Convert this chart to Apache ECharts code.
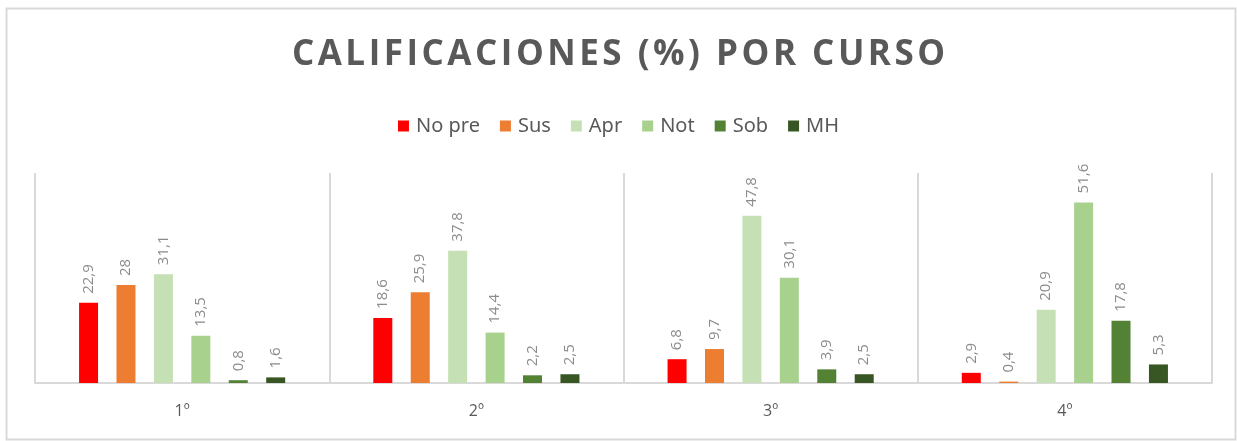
<!DOCTYPE html>
<html>
<head>
<meta charset="utf-8">
<script src="https://cdn.jsdelivr.net/npm/echarts@6/dist/echarts.min.js"></script>
<style>
    html, body { margin: 0; padding: 0; background: #fff; }
    #chart { width: 1237px; height: 441px; }
</style>
</head>
<body>
<div id="chart"></div>
<script>
// cursos y notas
var tituloTexto = "CALIFICACIONES (%) POR CURSO";
var cursos = ["1º", "2º", "3º", "4º"];
var noPre = [22.9, 18.6, 6.8, 2.9];
var sus = [28, 25.9, 9.7, 0.4];
var apr = [31.1, 37.8, 47.8, 20.9];
var notable = [13.5, 14.4, 30.1, 51.6];
var sob = [0.8, 2.2, 3.9, 17.8];
var mh = [1.6, 2.5, 2.5, 5.3];

var nombres = ["No pre", "Sus", "Apr", "Not", "Sob", "MH"];
var colores = ["#ff0000", "#ed7d31", "#c5e0b4", "#a9d18e", "#548235", "#375623"];
var valores = [noPre, sus, apr, notable, sob, mh];

var myChart = echarts.init(document.getElementById("chart"));

function makeSeries(i) {
    return {
        name: nombres[i],
        type: "bar",
        data: valores[i],
        barWidth: 19,
        barGap: "97%",
        itemStyle: { color: colores[i] },
        label: {
            show: true,
            position: "top",
            rotate: 90,
            align: "left",
            verticalAlign: "middle",
            distance: 9,
            color: "#8c8c8c",
            fontFamily: "Open Sans",
            fontSize: 15,
            formatter: function (p) {
                return String(p.value).replace(".", ",");
            }
        }
    };
}

var series = [];
for (var i = 0; i < nombres.length; i++) {
    series.push(makeSeries(i));
}

// espaciado entre letras del titulo (hair space)
var tituloEspaciado = tituloTexto.split("").join("\u200A");

var option = {
    animation: false,
    backgroundColor: "#fff",
    title: {
        text: tituloEspaciado,
        left: "center",
        top: 33,
        textStyle: {
            color: "#595959",
            fontFamily: "Open Sans",
            fontWeight: "bold",
            fontSize: 35
        }
    },
    legend: {
        top: 111,
        left: "center",
        itemWidth: 11,
        itemHeight: 11,
        itemGap: 20,
        icon: "rect",
        textStyle: { color: "#595959", fontFamily: "Noto Sans", fontSize: 20, padding: [0, 0, 0, 2] },
        data: nombres
    },
    grid: { left: 35, right: 25, top: 173, bottom: 58 },
    xAxis: {
        type: "category",
        data: cursos,
        axisLine: { lineStyle: { color: "#d9d9d9", width: 2 } },
        axisTick: { show: false },
        splitLine: { show: true, lineStyle: { color: "#d9d9d9", width: 2 } },
        axisLabel: { color: "#595959", fontFamily: "Open Sans", fontSize: 16, margin: 20 }
    },
    yAxis: {
        type: "value",
        min: 0,
        max: 60,
        show: false
    },
    graphic: [{
        type: "rect",
        shape: { x: 6.5, y: 8.5, width: 1229, height: 431 },
        style: { fill: null, stroke: "#d9d9d9", lineWidth: 2 },
        silent: true
    }],
    series: series
};

myChart.setOption(option);
</script>
</body>
</html>
